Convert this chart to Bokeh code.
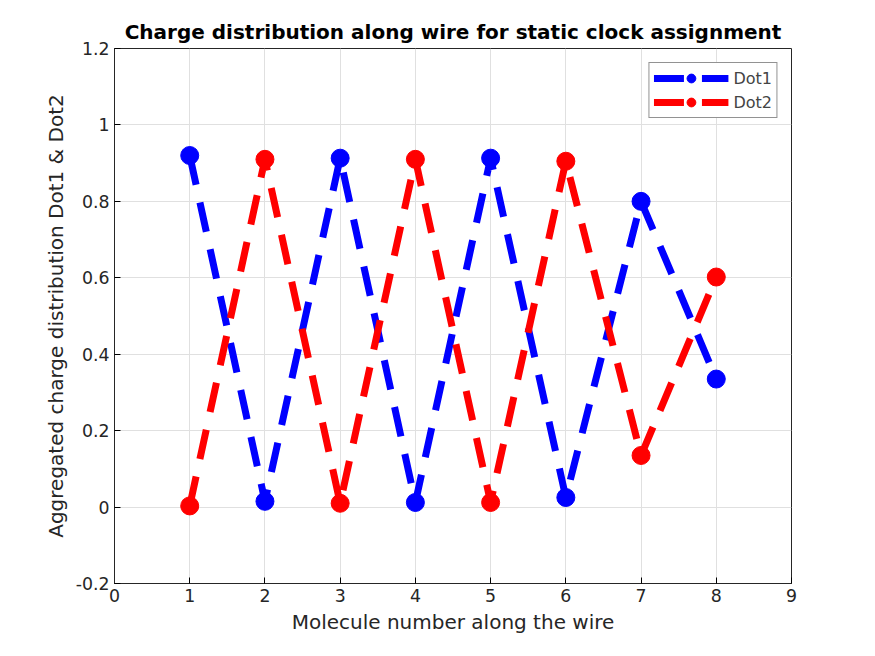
from bokeh.plotting import figure
from bokeh.embed import file_html
from bokeh.resources import INLINE
from bokeh.models import Range1d, FixedTicker, CustomJSTickFormatter

molecule = [1, 2, 3, 4, 5, 6, 7, 8]
dot1 = [0.92, 0.015, 0.913, 0.012, 0.913, 0.025, 0.80, 0.335]
dot2 = [0.003, 0.91, 0.01, 0.91, 0.012, 0.905, 0.135, 0.602]

p = figure(width=859, height=640, output_backend="svg", toolbar_location=None,
           x_range=Range1d(0, 9), y_range=Range1d(-0.2, 1.2),
           title="Charge distribution along wire for static clock assignment",
           min_border_left=114, min_border_right=68, min_border_top=48, min_border_bottom=57)
p.title.align = "center"
p.title.text_font = "DejaVu Sans"
p.title.text_font_size = "15pt"
p.title.text_font_style = "bold"
p.title.text_color = "black"
p.title.offset = -4
p.outline_line_color = "#262626"

for name, vals, col in [("Dot1", dot1, "blue"), ("Dot2", dot2, "red")]:
    p.line(molecule, vals, line_color=col, line_width=7, line_dash="30 18", legend_label=name)
    p.scatter(molecule, vals, size=18, color=col, legend_label=name)

p.xaxis.ticker = FixedTicker(ticks=list(range(0, 10)))
p.yaxis.ticker = FixedTicker(ticks=[-0.2, 0, 0.2, 0.4, 0.6, 0.8, 1, 1.2])
p.yaxis.formatter = CustomJSTickFormatter(code="return String(Math.round(tick*10)/10);")
p.xaxis.axis_label = "Molecule number along the wire"
p.yaxis.axis_label = "Aggregated charge distribution Dot1 & Dot2"
for ax in (p.xaxis, p.yaxis):
    ax.axis_label_text_font = "DejaVu Sans"
    ax.axis_label_text_font_style = "normal"
    ax.axis_label_text_font_size = "15pt"
    ax.axis_label_text_color = "#262626"
    ax.major_label_text_font = "DejaVu Sans"
    ax.major_label_text_font_size = "13pt"
    ax.major_label_text_color = "#262626"
    ax.major_tick_in = 6
    ax.major_tick_out = 0
    ax.minor_tick_line_color = None
    ax.axis_line_color = "#262626"
p.grid.grid_line_color = "#e0e0e0"

p.legend.location = "top_right"
p.legend.label_text_font = "DejaVu Sans"
p.legend.label_text_font_size = "12pt"
p.legend.border_line_color = "#262626"
p.legend.glyph_width = 75
p.legend.glyph_height = 22
p.legend.padding = 4
p.legend.spacing = 2
p.legend.margin = 14

open("out.html", "w").write(file_html(p, INLINE))
